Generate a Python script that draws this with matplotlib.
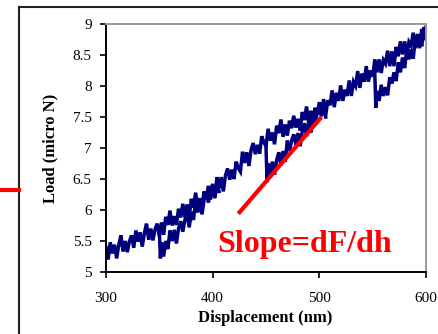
import matplotlib
matplotlib.use("Agg")
import matplotlib.pyplot as plt
from matplotlib.lines import Line2D

# ---- data ----
main_x = [300, 302, 304, 306, 308, 310, 312, 314, 316, 318, 320, 322, 324, 326, 328, 330,
          332, 334, 336, 338, 340, 342, 344, 346, 348, 350,
          352, 354, 356, 358, 360, 362, 364, 366, 368, 370, 372, 374, 376, 378, 380,
          382, 384, 386, 388, 390, 392, 394, 396, 398, 400,
          402, 404, 406, 408, 410, 412, 414, 416, 418, 420, 422, 424, 426, 428, 430,
          432, 434, 436, 438, 440, 442, 444, 446, 448, 450,
          452, 454, 456, 458, 460, 462, 464, 466, 468, 470, 472, 474, 476, 478, 480,
          482, 484, 486, 488, 490, 492, 494, 496, 498, 500,
          502, 504, 506, 508, 510, 512, 514, 516, 518, 520, 522, 524, 526, 528, 530,
          532, 534, 536, 538, 540, 542, 544, 546, 548, 550,
          552, 554, 556, 558, 560, 562, 564, 566, 568, 570, 572, 574, 576, 578, 580,
          582, 584, 586, 588, 590, 592, 594, 596, 598, 600]
main_y = [5.40, 5.20, 5.48, 5.30, 5.44, 5.22, 5.44, 5.59, 5.33, 5.50, 5.32, 5.50, 5.59, 5.39, 5.67, 5.49,
          5.64, 5.41, 5.63, 5.78, 5.52, 5.70, 5.51, 5.69, 5.78, 5.58,
          5.80, 5.60, 5.89, 5.76, 5.99, 5.75, 5.90, 5.76, 6.02, 5.88, 6.10, 5.88, 6.09, 5.89, 6.18,
          6.04, 6.28, 6.04, 6.19, 6.05, 6.30, 6.17, 6.39, 6.17, 6.38,
          6.21, 6.53, 6.35, 6.53, 6.30, 6.56, 6.67, 6.49, 6.65, 6.50, 6.78, 6.68, 6.62, 6.94, 6.76,
          6.93, 6.71, 6.97, 7.08, 6.90, 7.05, 6.91, 7.19, 7.09, 7.03,
          7.31, 7.12, 7.25, 7.06, 7.36, 7.24, 7.46, 7.18, 7.38, 7.20, 7.44, 7.32, 7.52, 7.33, 7.47,
          7.28, 7.58, 7.45, 7.67, 7.40, 7.60, 7.42, 7.65, 7.53, 7.74,
          7.53, 7.79, 7.53, 7.77, 7.69, 7.93, 7.66, 7.89, 7.76, 8.01, 7.76, 7.94, 7.84, 8.09, 7.84,
          8.07, 8.00, 8.24, 7.97, 8.20, 8.07, 8.32, 8.07, 8.25, 8.15,
          8.43, 8.22, 8.43, 8.21, 8.42, 8.36, 8.57, 8.32, 8.56, 8.32, 8.63, 8.48, 8.72, 8.51, 8.72,
          8.49, 8.71, 8.65, 8.86, 8.61, 8.84, 8.61, 8.92, 8.77, 8.95]

reload1_x = [350, 351, 352, 354, 356, 358, 360, 362, 364, 366, 368, 370, 372, 374, 376, 378,
             380, 382, 384, 386, 388, 390, 392, 394, 396, 398, 400, 402, 404, 406]
reload1_y = [5.65, 5.22, 5.48, 5.25, 5.50, 5.37, 5.67, 5.50, 5.68, 5.46, 5.70, 5.82, 5.65, 5.84, 5.95, 5.72,
             5.97, 5.84, 6.13, 5.96, 6.15, 5.93, 6.17, 6.29, 6.12, 6.31, 6.42, 6.19, 6.43, 6.30]

reload2_x = [450, 451, 452, 454, 456, 458, 460, 462, 464, 466, 468, 470, 472, 474, 476, 478,
             480, 482, 484, 486, 488, 490, 492, 494, 496, 498, 500, 502, 504, 506]
reload2_y = [7.02, 6.45, 6.75, 6.58, 6.78, 6.57, 6.81, 6.93, 6.72, 6.95, 6.78, 7.12, 6.95, 7.12, 7.22, 7.05,
             7.24, 7.03, 7.27, 7.40, 7.19, 7.42, 7.25, 7.59, 7.41, 7.58, 7.68, 7.51, 7.71, 7.50]

reload3_x = [552, 553, 554, 556, 558, 560, 562, 564, 566, 568, 570, 572, 574, 576, 578, 580,
             582, 584, 586, 588, 590, 592, 594, 596, 598, 600]
reload3_y = [8.20, 7.65, 7.92, 7.76, 8.02, 7.84, 7.98, 7.85, 8.14, 8.04, 8.22, 8.08, 8.38, 8.22, 8.46, 8.29,
             8.60, 8.43, 8.59, 8.44, 8.76, 8.63, 8.81, 8.64, 8.95, 8.76]

slope_x = [424, 502]
slope_y = [5.94, 7.50]

x_ticks = [300, 400, 500, 600]
y_ticks = [5, 5.5, 6, 6.5, 7, 7.5, 8, 8.5, 9]
y_tick_labels = ["5", "5.5", "6", "6.5", "7", "7.5", "8", "8.5", "9"]

serif = ["Liberation Serif", "DejaVu Serif"]
navy = "#00007f"

fig = plt.figure(figsize=(4.38, 3.34), dpi=100)
ax = fig.add_axes([0.242, 0.1856, 0.7306, 0.7425])

for xs, ys in [(main_x, main_y), (reload1_x, reload1_y), (reload2_x, reload2_y), (reload3_x, reload3_y)]:
    ax.plot(xs, ys, color=navy, lw=2.5, solid_joinstyle="miter", zorder=2)

ax.plot(slope_x, slope_y, color="#ff0000", lw=3.0, solid_capstyle="butt", zorder=3)
ax.text(404, 5.32, "Slope=dF/dh", color="#ff0000", fontsize=23, fontweight="bold",
        family=serif, ha="left", va="baseline", zorder=4)

ax.set_xlim(300, 600)
ax.set_ylim(5, 9)
ax.set_xticks(x_ticks)
ax.set_xticklabels([str(t) for t in x_ticks])
ax.set_yticks(y_ticks)
ax.set_yticklabels(y_tick_labels)
ax.tick_params(direction="out", length=4.3, width=1.2, colors="black", labelsize=11)
ax.tick_params(axis="x", pad=10)
ax.tick_params(axis="y", pad=6)
for lab in ax.get_xticklabels() + ax.get_yticklabels():
    lab.set_family(serif)

for s in ["left", "bottom"]:
    ax.spines[s].set_color("black")
    ax.spines[s].set_linewidth(1.4)
for s in ["top", "right"]:
    ax.spines[s].set_color("#9a9a9a")
    ax.spines[s].set_linewidth(1.4)

ax.set_xlabel("Displacement (nm)", fontsize=12, fontweight="bold", family=serif)
ax.set_ylabel("Load (micro N)", fontsize=12, fontweight="bold", family=serif)
ax.xaxis.set_label_coords(0.4975, -0.185)
ax.yaxis.set_label_coords(-0.175, 0.5)
ax.xaxis.label.set_va("center")
ax.yaxis.label.set_va("center")

# outer frame and the red mark at left
fx = 19 / 438
fy = 1 - 7 / 334
fig.add_artist(Line2D([fx, fx], [0, fy], transform=fig.transFigure, color="#222222", lw=1.5))
fig.add_artist(Line2D([fx, 1], [fy, fy], transform=fig.transFigure, color="#222222", lw=1.5))
ry = 1 - 190 / 334
fig.add_artist(Line2D([0, fx], [ry, ry], transform=fig.transFigure, color="#ff0000", lw=3))

fig.savefig("out.png", dpi=100)
